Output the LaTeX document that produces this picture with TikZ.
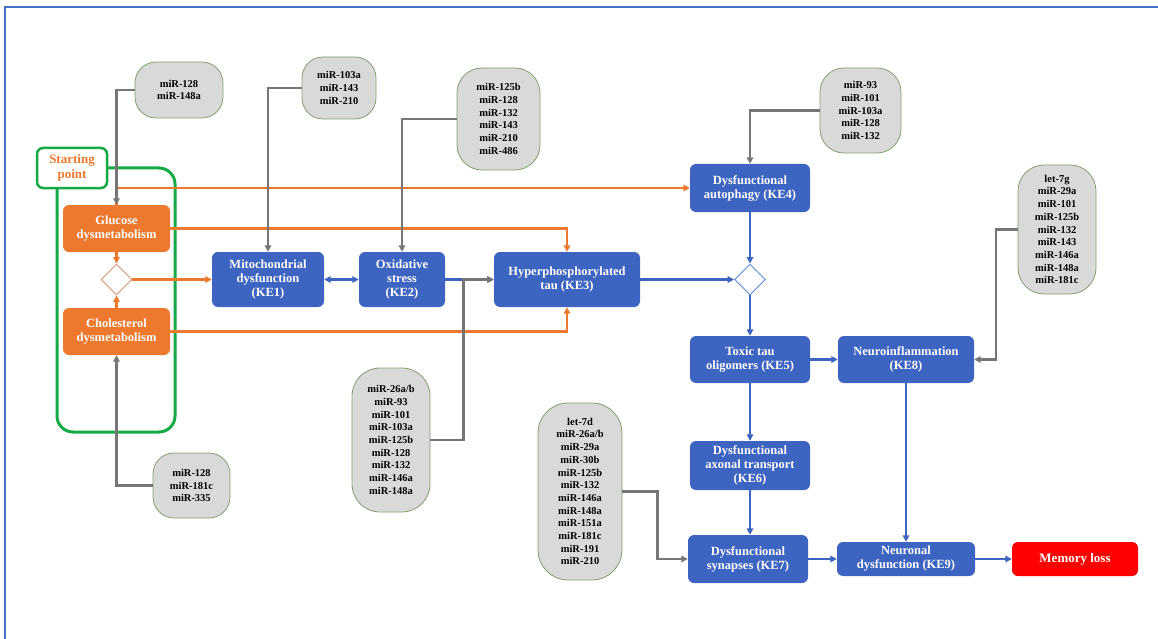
\documentclass[tikz,border=0pt]{standalone}
\usepackage{fontspec}
\setmainfont{Liberation Serif}
\usetikzlibrary{arrows.meta,shapes.geometric}
\definecolor{keblue}{RGB}{61,100,192}
\definecolor{kOrange}{RGB}{236,121,45}
\definecolor{kGreen}{RGB}{20,170,70}
\definecolor{mirfill}{RGB}{217,217,217}
\definecolor{mirdraw}{RGB}{130,160,110}
\definecolor{kGrey}{RGB}{118,118,118}
\definecolor{frameblue}{RGB}{68,114,196}
\definecolor{dOrange}{RGB}{215,150,120}
\definecolor{dBlue}{RGB}{90,140,215}
\definecolor{memred}{RGB}{255,0,0}
\tikzset{
  kebox/.style={fill=keblue, rounded corners=6pt, text=white, align=center, inner sep=0pt,
     font=\bfseries\fontsize{12.5}{14}\selectfont},
  orbox/.style={kebox, fill=kOrange},
  redbox/.style={kebox, fill=memred},
  mirbox/.style={fill=mirfill, draw=mirdraw, line width=0.8pt, rounded corners=21pt, align=center,
     inner sep=0pt, font=\bfseries\fontsize{10.5}{12.7}\selectfont},
  dia/.style={diamond, aspect=1, minimum size=31pt, inner sep=0pt, fill=white, line width=0.9pt},
  tip/.style={-{Triangle[length=6.5pt,width=6.5pt]}},
  oline/.style={draw=kOrange, line width=2.2pt},
  gline/.style={draw=kGrey, line width=2.2pt},
  bline/.style={draw=keblue, line width=2.2pt},
}
\begin{document}
\begin{tikzpicture}[x=1pt,y=-1pt]
\useasboundingbox (0,0) rectangle (1158,639);
% frame
\draw[frameblue, line width=2.2pt] (5,639) -- (5,7) -- (1158,7);

% starting point group
\draw[kGreen, line width=3pt, rounded corners=16pt] (57,168) rectangle (175,432);
\node[draw=kGreen, line width=2.5pt, fill=white, rounded corners=6pt, minimum width=70pt, minimum height=40pt,
      inner sep=0pt, align=center, text=kOrange, font=\bfseries\fontsize{13}{14.5}\selectfont]
      (start) at (72,168) {Starting\\point};

% orange boxes
\node[orbox, minimum width=107pt, minimum height=47pt] (glu) at (116.5,228.5) {Glucose\\dysmetabolism};
\node[orbox, minimum width=107pt, minimum height=47pt] (chol) at (116.5,331.5) {Cholesterol\\dysmetabolism};
\node[dia, draw=dOrange] (d1) at (116.5,279.5) {};

% key events
\node[kebox, minimum width=112pt, minimum height=55pt] (ke1) at (268,279.5) {Mitochondrial\\dysfunction\\(KE1)};
\node[kebox, minimum width=86pt, minimum height=55pt] (ke2) at (402,279.5) {Oxidative\\stress\\(KE2)};
\node[kebox, minimum width=146pt, minimum height=55pt] (ke3) at (567,279.5) {Hyperphosphorylated\\tau (KE3)};
\node[dia, draw=dBlue] (d2) at (750,279.5) {};
\node[kebox, minimum width=120pt, minimum height=48pt] (ke4) at (750,188) {Dysfunctional\\autophagy (KE4)};
\node[kebox, minimum width=120pt, minimum height=47pt] (ke5) at (750,359.5) {Toxic tau\\oligomers (KE5)};
\node[kebox, minimum width=136pt, minimum height=47pt] (ke8) at (906,359.5) {Neuroinflammation\\(KE8)};
\node[kebox, minimum width=120pt, minimum height=49pt] (ke6) at (750,465.5) {Dysfunctional\\axonal transport\\(KE6)};
\node[kebox, minimum width=120pt, minimum height=48pt] (ke7) at (748,559) {Dysfunctional\\synapses (KE7)};
\node[kebox, minimum width=138pt, minimum height=34pt] (ke9) at (906,559) {Neuronal\\dysfunction (KE9)};
\node[redbox, minimum width=126pt, minimum height=34pt, font=\bfseries\fontsize{13}{15}\selectfont] (mem) at (1075,559) {Memory loss};

% miRNA boxes
\node[mirbox, minimum width=88pt, minimum height=56pt] (mA) at (179,90) {miR-128\\miR-148a};
\node[mirbox, minimum width=74pt, minimum height=62pt] (mB) at (339,88) {miR-103a\\miR-143\\miR-210};
\node[mirbox, minimum width=83pt, minimum height=102pt, rounded corners=25pt] (mC) at (498.5,119) {miR-125b\\miR-128\\miR-132\\miR-143\\miR-210\\miR-486};
\node[mirbox, minimum width=81pt, minimum height=85pt, rounded corners=24pt] (mD) at (860.5,110.5) {miR-93\\miR-101\\miR-103a\\miR-128\\miR-132};
\node[mirbox, minimum width=78pt, minimum height=129pt, rounded corners=26pt] (mE) at (1057,229.5) {let-7g\\miR-29a\\miR-101\\miR-125b\\miR-132\\miR-143\\miR-146a\\miR-148a\\miR-181c};
\node[mirbox, minimum width=77pt, minimum height=65pt] (mF) at (191.5,485.5) {miR-128\\miR-181c\\miR-335};
\node[mirbox, minimum width=78pt, minimum height=144pt, rounded corners=28pt] (mG) at (391,440) {miR-26a/b\\miR-93\\miR-101\\miR-103a\\miR-125b\\miR-128\\miR-132\\miR-146a\\miR-148a};
\node[mirbox, minimum width=84pt, minimum height=177pt, rounded corners=30pt] (mH) at (580,491.5) {let-7d\\miR-26a/b\\miR-29a\\miR-30b\\miR-125b\\miR-132\\miR-146a\\miR-148a\\miR-151a\\miR-181c\\miR-191\\miR-210};

% orange connectors
\draw[oline, tip] (glu.north) |- (ke4.west);
\draw[oline, tip] (glu.east) -| (ke3.north);
\draw[oline, tip] (chol.east) -| (ke3.south);
\draw[oline, tip] (glu.south) -- (d1.north);
\draw[oline, tip] (chol.north) -- (d1.south);
\draw[oline, tip] (d1.east) -- (ke1.west);

% blue connectors
\draw[bline, {Triangle[length=6.5pt,width=6.5pt]}-{Triangle[length=6.5pt,width=6.5pt]}] (ke1.east) -- (ke2.west);
\draw[bline, tip] (ke2.east) -- (ke3.west);
\draw[bline, tip] (ke3.east) -- (d2.west);
\draw[bline, tip] (ke4.south) -- (d2.north);
\draw[bline, tip] (d2.south) -- (ke5.north);
\draw[bline, tip] (ke5.east) -- (ke8.west);
\draw[bline, tip] (ke5.south) -- (ke6.north);
\draw[bline, tip] (ke6.south) -- (ke7.north -| ke6.south);
\draw[bline, tip] (ke7.east) -- (ke9.west);
\draw[bline, tip] (ke8.south) -- (ke9.north);
\draw[bline, tip] (ke9.east) -- (mem.west);

% grey connectors
\draw[gline, tip] (mA.west) -| (glu.north);
\draw[gline, tip] (mB.west) -| (ke1.north);
\draw[gline, tip] (mC.west) -| (ke2.north);
\draw[gline, tip] (mD.west) -| (ke4.north);
\draw[gline, tip] (mE.west) -- ++(-22,0) |- (ke8.east);
\draw[gline, tip] (mF.west) -| (chol.south);
\draw[gline, tip] (mG.east) -- ++(33,0) |- (ke3.west);
\draw[gline, tip] (mH.east) -- ++(35,0) |- (ke7.west);
\end{tikzpicture}
\end{document}
